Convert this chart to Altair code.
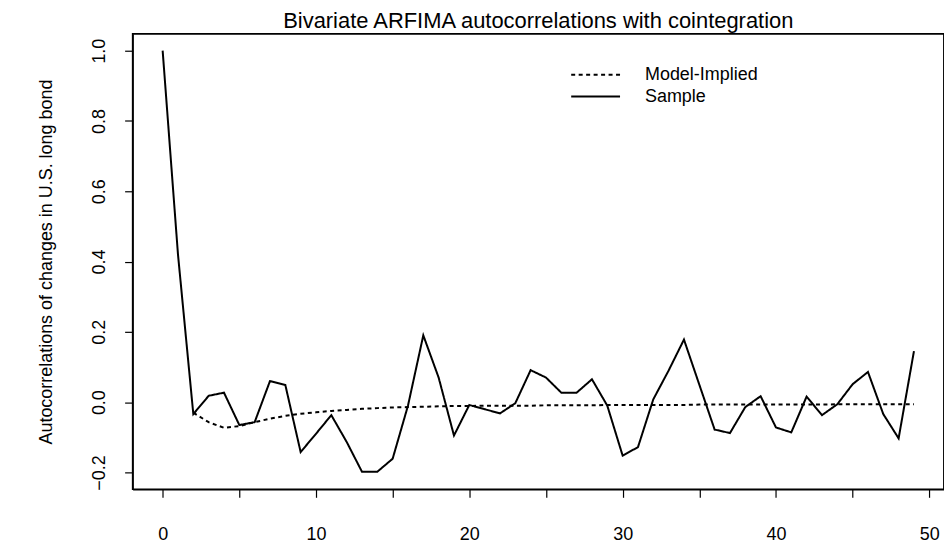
import altair as alt
import pandas as pd

lags = list(range(50))
sample = [1.0, 0.42, -0.034, 0.018, 0.027, -0.065, -0.057, 0.06, 0.049, -0.142,
          -0.09, -0.037, -0.113, -0.198, -0.198, -0.161, -0.01, 0.19, 0.07, -0.095,
          -0.008, -0.02, -0.032, -0.003, 0.091, 0.07, 0.027, 0.027, 0.065, -0.01,
          -0.152, -0.128, 0.008, 0.09, 0.178, 0.05, -0.078, -0.088, -0.014, 0.017,
          -0.072, -0.086, 0.016, -0.037, -0.006, 0.051, 0.086, -0.034, -0.103, 0.145]
model_lags = list(range(2, 50))
model = [-0.03, -0.057, -0.073, -0.068, -0.057, -0.047, -0.039, -0.033, -0.029, -0.025,
         -0.022, -0.019, -0.017, -0.015, -0.014, -0.013, -0.012, -0.011, -0.011, -0.010,
         -0.010, -0.010, -0.010, -0.009, -0.009, -0.009, -0.009, -0.008, -0.008, -0.008,
         -0.008, -0.008, -0.008, -0.007, -0.007, -0.007, -0.007, -0.007, -0.007, -0.007,
         -0.007, -0.007, -0.006, -0.006, -0.006, -0.006, -0.006, -0.006]
series_names = ["Model-Implied", "Sample"]
x_ticks = list(range(0, 51, 5))
y_ticks = [-0.2, 0.0, 0.2, 0.4, 0.6, 0.8, 1.0]

df = pd.concat([
    pd.DataFrame({"lag": model_lags, "acf": model, "series": series_names[0]}),
    pd.DataFrame({"lag": lags, "acf": sample, "series": series_names[1]}),
])

FONT = "Liberation Sans"
W, H = 814, 457
DASH = [4, 3.5]
LW = 2

x = alt.X("lag:Q",
          scale=alt.Scale(domain=[-1.96, 50.96], nice=False, zero=False),
          axis=alt.Axis(values=x_ticks, title=None, grid=False,
                        domain=True, domainColor="black", domainWidth=1.5,
                        tickColor="black", tickSize=8, tickWidth=1.2,
                        labelExpr="datum.value % 10 == 0 ? datum.label : ''",
                        labelFont=FONT, labelFontSize=18, labelColor="black",
                        labelBaseline="middle", labelPadding=37, labelFlush=False))
y = alt.Y("acf:Q",
          scale=alt.Scale(domain=[-0.248, 1.048], nice=False, zero=False),
          axis=alt.Axis(values=y_ticks, format=".1f", grid=False,
                        domain=True, domainColor="black", domainWidth=1.5,
                        tickColor="black", tickSize=8, tickWidth=1.2,
                        labelAngle=-90, labelAlign="center", labelBaseline="middle",
                        labelFont=FONT, labelFontSize=18, labelColor="black",
                        labelPadding=25, labelFlush=False,
                        title="Autocorrelations of changes in U.S. long bond",
                        titleFont=FONT, titleFontSize=18, titleFontWeight="normal",
                        titleColor="black", titleX=-86, titleY=H / 2,
                        titleBaseline="middle"))

lines = alt.Chart(df).mark_line(color="black", strokeWidth=LW).encode(
    x=x, y=y,
    strokeDash=alt.StrokeDash("series:N",
                              scale=alt.Scale(domain=series_names, range=[DASH, [1, 0]]),
                              legend=None),
    detail="series:N",
)

frame_df = pd.DataFrame({"f": [0]})
def edge(x1, x2, y1, y2):
    return alt.Chart(frame_df).mark_rule(color="black", strokeWidth=1.5).encode(
        x=alt.value(x1), x2=alt.value(x2), y=alt.value(y1), y2=alt.value(y2))

frame_top = edge(0, W, 0, 0)
frame_right = edge(W, W, 0, H)

leg_df = pd.DataFrame({"name": series_names})
def leg_rule(name, ypos, dash):
    props = dict(color="black", strokeWidth=LW)
    if dash:
        props["strokeDash"] = DASH
    return alt.Chart(leg_df).transform_filter(alt.datum.name == name).mark_rule(**props).encode(
        x=alt.value(440), x2=alt.value(489), y=alt.value(ypos))

def leg_text(name, ypos):
    return alt.Chart(leg_df).transform_filter(alt.datum.name == name).mark_text(
        align="left", baseline="middle", font=FONT, fontSize=18, color="black").encode(
        x=alt.value(514), y=alt.value(ypos), text="name:N")

chart = alt.layer(
    lines, frame_top, frame_right,
    leg_rule(series_names[0], 41, True), leg_rule(series_names[1], 63, False),
    leg_text(series_names[0], 41), leg_text(series_names[1], 63),
).properties(
    width=W, height=H,
    title=alt.TitleParams("Bivariate ARFIMA autocorrelations with cointegration",
                          font=FONT, fontSize=22, fontWeight="normal", color="black",
                          anchor="middle", offset=0),
    autosize=alt.AutoSizeParams(type="none"),
    padding={"left": 125, "top": 25, "right": 0, "bottom": 58},
).configure_view(stroke="black", strokeWidth=1.5)

chart.save("out.html", embed_options={"renderer": "svg", "actions": False})
